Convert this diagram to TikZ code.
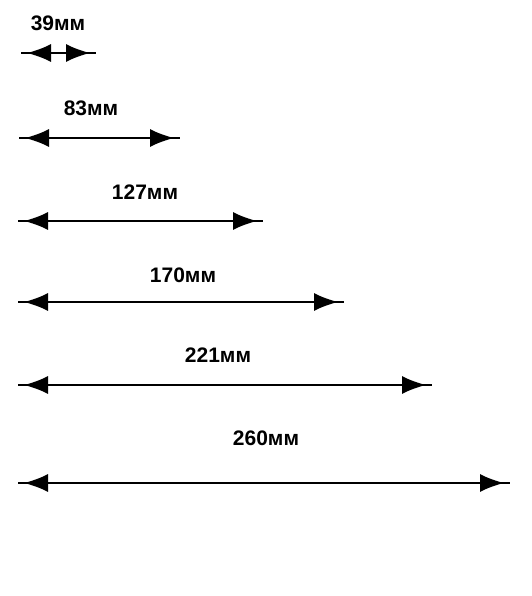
\documentclass[tikz,border=0pt]{standalone}
\usepackage{fontspec}
\setmainfont{Liberation Sans}
\usetikzlibrary{arrows.meta,calc}
\tikzset{
  dimline/.style={black},
  headtip/.style={line width=1.6pt, -{Latex[length=24pt,width=18pt]}},
  dimlabel/.style={font=\fontsize{21}{21}\selectfont\bfseries, inner sep=0pt, anchor=center}
}
\newcommand{\dimarrow}[5]{%
  % #1 name, #2 x left, #3 x right, #4 y, #5 line width
  \coordinate (#1L) at (#2,#4);
  \coordinate (#1R) at (#3,#4);
  \draw[dimline, line width=#5] (#1L) -- (#1R);
  \draw[headtip] ($(#1L)+(31,0)$) -- ($(#1L)+(6,0)$);
  \draw[headtip] ($(#1R)+(-31,0)$) -- ($(#1R)+(-6,0)$);
}
\begin{document}
\begin{tikzpicture}[x=1pt,y=-1pt]
\useasboundingbox (0,0) rectangle (531,596);
\dimarrow{a}{21}{96}{53}{2pt}
\node[dimlabel] (ta) at (58,23) {39мм};
\dimarrow{b}{19}{180}{138}{1.2pt}
\node[dimlabel] (tb) at (91,108) {83мм};
\dimarrow{c}{18}{263}{221}{1.3pt}
\node[dimlabel] (tc) at (145,192) {127мм};
\dimarrow{d}{18}{344}{302}{1.6pt}
\node[dimlabel] (td) at (183,275) {170мм};
\dimarrow{e}{18}{432}{385}{2.2pt}
\node[dimlabel] (te) at (218,355) {221мм};
\dimarrow{f}{18}{510}{483}{2.4pt}
\node[dimlabel] (tf) at (266,438) {260мм};
\end{tikzpicture}
\end{document}
